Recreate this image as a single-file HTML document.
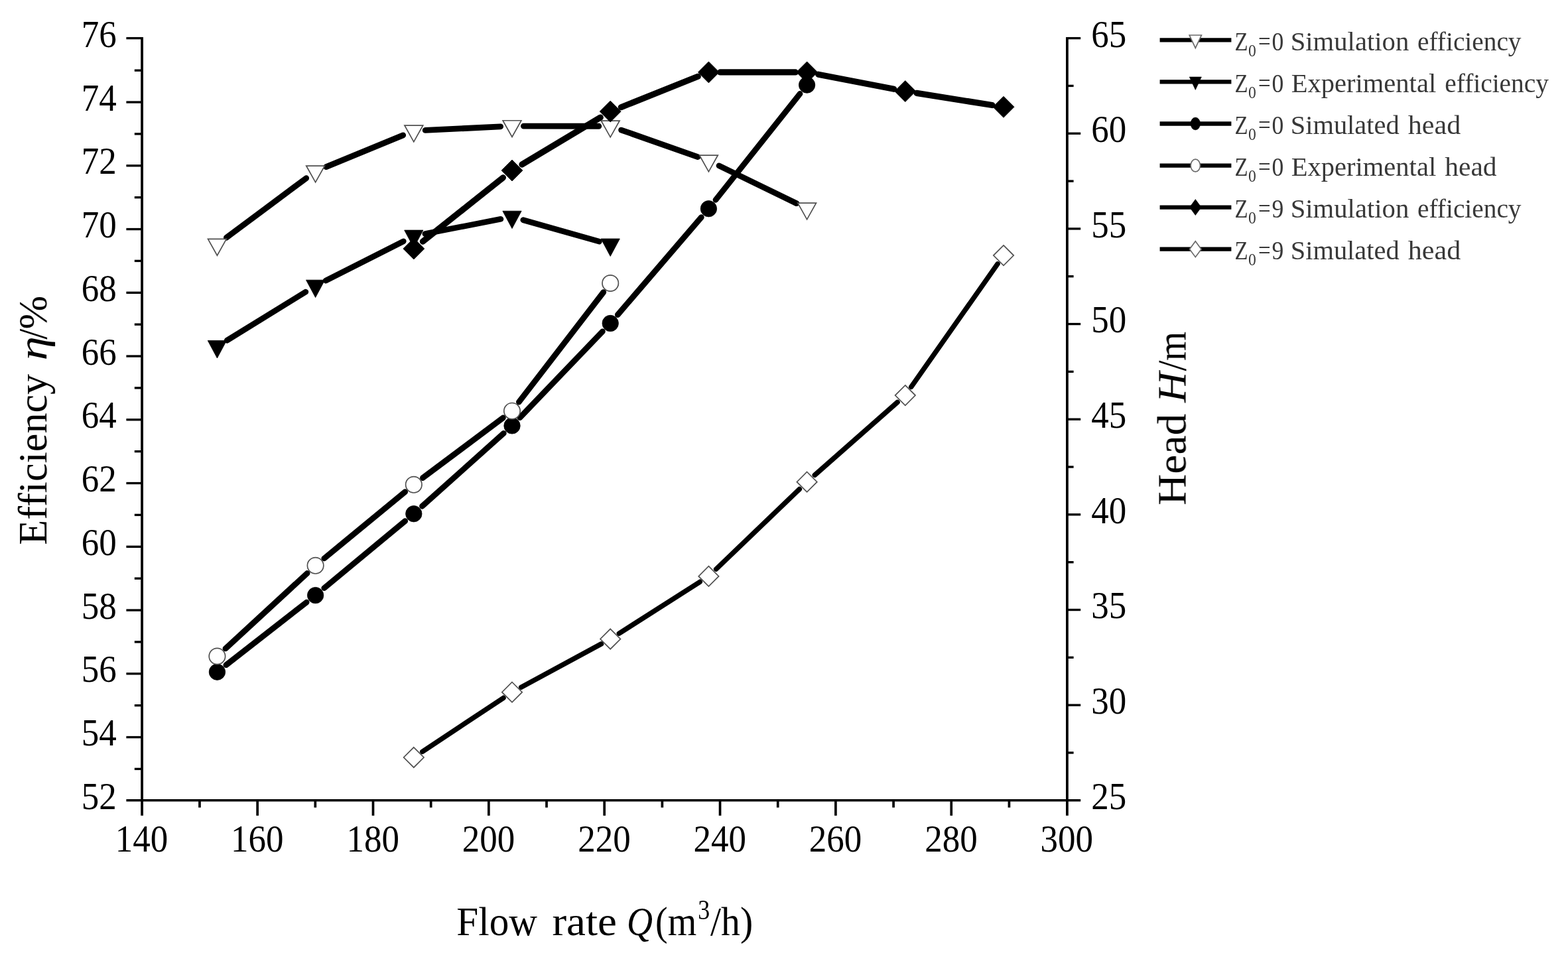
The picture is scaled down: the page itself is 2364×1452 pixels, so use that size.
<!DOCTYPE html>
<html lang="en"><head><meta charset="utf-8"><title>Efficiency and head versus flow rate</title>
<style>html,body{margin:0;padding:0;background:#fff;}body{width:2364px;height:1452px;overflow:hidden;}svg{display:block;}text{font-family:"Liberation Serif","DejaVu Serif",serif;white-space:pre;}.i{font-style:italic;}</style>
</head><body>
<svg width="2364" height="1452" viewBox="0 0 2364 1452">
<rect width="2364" height="1452" fill="#fff"/>
<defs><filter id="soft" x="0" y="0" width="100%" height="100%" filterUnits="userSpaceOnUse" color-interpolation-filters="sRGB"><feGaussianBlur stdDeviation="0.55"/></filter><filter id="softer" x="0" y="0" width="100%" height="100%" filterUnits="userSpaceOnUse" color-interpolation-filters="sRGB"><feGaussianBlur stdDeviation="0.7"/></filter></defs>
<g filter="url(#soft)">
<g stroke="#000" fill="none" stroke-linecap="butt">
<line x1="214.1" y1="55.93" x2="214.1" y2="1229.8" stroke-width="3.8"/>
<line x1="1608.9" y1="55.93" x2="1608.9" y2="1229.8" stroke-width="3.8"/>
<line x1="190.4" y1="1206.8" x2="1629.2" y2="1206.8" stroke-width="3.5"/>
<line x1="202.80" y1="1159.42" x2="214.10" y2="1159.42" stroke-width="3.35"/>
<line x1="190.40" y1="1111.55" x2="214.10" y2="1111.55" stroke-width="3.35"/>
<line x1="202.80" y1="1063.67" x2="214.10" y2="1063.67" stroke-width="3.35"/>
<line x1="190.40" y1="1015.80" x2="214.10" y2="1015.80" stroke-width="3.35"/>
<line x1="202.80" y1="967.92" x2="214.10" y2="967.92" stroke-width="3.35"/>
<line x1="190.40" y1="920.05" x2="214.10" y2="920.05" stroke-width="3.35"/>
<line x1="202.80" y1="872.17" x2="214.10" y2="872.17" stroke-width="3.35"/>
<line x1="190.40" y1="824.30" x2="214.10" y2="824.30" stroke-width="3.35"/>
<line x1="202.80" y1="776.42" x2="214.10" y2="776.42" stroke-width="3.35"/>
<line x1="190.40" y1="728.55" x2="214.10" y2="728.55" stroke-width="3.35"/>
<line x1="202.80" y1="680.67" x2="214.10" y2="680.67" stroke-width="3.35"/>
<line x1="190.40" y1="632.80" x2="214.10" y2="632.80" stroke-width="3.35"/>
<line x1="202.80" y1="584.92" x2="214.10" y2="584.92" stroke-width="3.35"/>
<line x1="190.40" y1="537.05" x2="214.10" y2="537.05" stroke-width="3.35"/>
<line x1="202.80" y1="489.17" x2="214.10" y2="489.17" stroke-width="3.35"/>
<line x1="190.40" y1="441.30" x2="214.10" y2="441.30" stroke-width="3.35"/>
<line x1="202.80" y1="393.42" x2="214.10" y2="393.42" stroke-width="3.35"/>
<line x1="190.40" y1="345.55" x2="214.10" y2="345.55" stroke-width="3.35"/>
<line x1="202.80" y1="297.67" x2="214.10" y2="297.67" stroke-width="3.35"/>
<line x1="190.40" y1="249.80" x2="214.10" y2="249.80" stroke-width="3.35"/>
<line x1="202.80" y1="201.92" x2="214.10" y2="201.92" stroke-width="3.35"/>
<line x1="190.40" y1="154.05" x2="214.10" y2="154.05" stroke-width="3.35"/>
<line x1="202.80" y1="106.17" x2="214.10" y2="106.17" stroke-width="3.35"/>
<line x1="190.40" y1="57.60" x2="214.10" y2="57.60" stroke-width="3.35"/>
<line x1="1608.90" y1="1134.97" x2="1618.60" y2="1134.97" stroke-width="3.35"/>
<line x1="1608.90" y1="1063.15" x2="1629.20" y2="1063.15" stroke-width="3.35"/>
<line x1="1608.90" y1="991.32" x2="1618.60" y2="991.32" stroke-width="3.35"/>
<line x1="1608.90" y1="919.50" x2="1629.20" y2="919.50" stroke-width="3.35"/>
<line x1="1608.90" y1="847.67" x2="1618.60" y2="847.67" stroke-width="3.35"/>
<line x1="1608.90" y1="775.85" x2="1629.20" y2="775.85" stroke-width="3.35"/>
<line x1="1608.90" y1="704.02" x2="1618.60" y2="704.02" stroke-width="3.35"/>
<line x1="1608.90" y1="632.20" x2="1629.20" y2="632.20" stroke-width="3.35"/>
<line x1="1608.90" y1="560.37" x2="1618.60" y2="560.37" stroke-width="3.35"/>
<line x1="1608.90" y1="488.55" x2="1629.20" y2="488.55" stroke-width="3.35"/>
<line x1="1608.90" y1="416.72" x2="1618.60" y2="416.72" stroke-width="3.35"/>
<line x1="1608.90" y1="344.90" x2="1629.20" y2="344.90" stroke-width="3.35"/>
<line x1="1608.90" y1="273.07" x2="1618.60" y2="273.07" stroke-width="3.35"/>
<line x1="1608.90" y1="201.25" x2="1629.20" y2="201.25" stroke-width="3.35"/>
<line x1="1608.90" y1="129.42" x2="1618.60" y2="129.42" stroke-width="3.35"/>
<line x1="1608.90" y1="57.60" x2="1629.20" y2="57.60" stroke-width="3.35"/>
<line x1="300.97" y1="1206.80" x2="300.97" y2="1217.60" stroke-width="3.7"/>
<line x1="388.15" y1="1206.80" x2="388.15" y2="1229.80" stroke-width="3.7"/>
<line x1="475.32" y1="1206.80" x2="475.32" y2="1217.60" stroke-width="3.7"/>
<line x1="562.50" y1="1206.80" x2="562.50" y2="1229.80" stroke-width="3.7"/>
<line x1="649.68" y1="1206.80" x2="649.68" y2="1217.60" stroke-width="3.7"/>
<line x1="736.85" y1="1206.80" x2="736.85" y2="1229.80" stroke-width="3.7"/>
<line x1="824.03" y1="1206.80" x2="824.03" y2="1217.60" stroke-width="3.7"/>
<line x1="911.20" y1="1206.80" x2="911.20" y2="1229.80" stroke-width="3.7"/>
<line x1="998.38" y1="1206.80" x2="998.38" y2="1217.60" stroke-width="3.7"/>
<line x1="1085.55" y1="1206.80" x2="1085.55" y2="1229.80" stroke-width="3.7"/>
<line x1="1172.73" y1="1206.80" x2="1172.73" y2="1217.60" stroke-width="3.7"/>
<line x1="1259.90" y1="1206.80" x2="1259.90" y2="1229.80" stroke-width="3.7"/>
<line x1="1347.08" y1="1206.80" x2="1347.08" y2="1217.60" stroke-width="3.7"/>
<line x1="1434.25" y1="1206.80" x2="1434.25" y2="1229.80" stroke-width="3.7"/>
<line x1="1521.43" y1="1206.80" x2="1521.43" y2="1217.60" stroke-width="3.7"/>
</g>
<text transform="translate(175.80,1219.80) scale(0.9300,1)" font-size="57.0" text-anchor="end">52</text>
<text transform="translate(175.80,1124.06) scale(0.9300,1)" font-size="57.0" text-anchor="end">54</text>
<text transform="translate(175.80,1028.32) scale(0.9300,1)" font-size="57.0" text-anchor="end">56</text>
<text transform="translate(175.80,932.58) scale(0.9300,1)" font-size="57.0" text-anchor="end">58</text>
<text transform="translate(175.80,836.83) scale(0.9300,1)" font-size="57.0" text-anchor="end">60</text>
<text transform="translate(175.80,741.09) scale(0.9300,1)" font-size="57.0" text-anchor="end">62</text>
<text transform="translate(175.80,645.35) scale(0.9300,1)" font-size="57.0" text-anchor="end">64</text>
<text transform="translate(175.80,549.61) scale(0.9300,1)" font-size="57.0" text-anchor="end">66</text>
<text transform="translate(175.80,453.87) scale(0.9300,1)" font-size="57.0" text-anchor="end">68</text>
<text transform="translate(175.80,358.12) scale(0.9300,1)" font-size="57.0" text-anchor="end">70</text>
<text transform="translate(175.80,262.38) scale(0.9300,1)" font-size="57.0" text-anchor="end">72</text>
<text transform="translate(175.80,166.64) scale(0.9300,1)" font-size="57.0" text-anchor="end">74</text>
<text transform="translate(175.80,70.90) scale(0.9300,1)" font-size="57.0" text-anchor="end">76</text>
<text transform="translate(1645.30,1219.50) scale(0.9300,1)" font-size="57.0" text-anchor="start">25</text>
<text transform="translate(1645.30,1075.89) scale(0.9300,1)" font-size="57.0" text-anchor="start">30</text>
<text transform="translate(1645.30,932.27) scale(0.9300,1)" font-size="57.0" text-anchor="start">35</text>
<text transform="translate(1645.30,788.66) scale(0.9300,1)" font-size="57.0" text-anchor="start">40</text>
<text transform="translate(1645.30,645.05) scale(0.9300,1)" font-size="57.0" text-anchor="start">45</text>
<text transform="translate(1645.30,501.44) scale(0.9300,1)" font-size="57.0" text-anchor="start">50</text>
<text transform="translate(1645.30,357.82) scale(0.9300,1)" font-size="57.0" text-anchor="start">55</text>
<text transform="translate(1645.30,214.21) scale(0.9300,1)" font-size="57.0" text-anchor="start">60</text>
<text transform="translate(1645.30,70.60) scale(0.9300,1)" font-size="57.0" text-anchor="start">65</text>
<text transform="translate(213.50,1284.30) scale(0.9300,1)" font-size="57.0" text-anchor="middle">140</text>
<text transform="translate(387.85,1284.30) scale(0.9300,1)" font-size="57.0" text-anchor="middle">160</text>
<text transform="translate(562.20,1284.30) scale(0.9300,1)" font-size="57.0" text-anchor="middle">180</text>
<text transform="translate(736.55,1284.30) scale(0.9300,1)" font-size="57.0" text-anchor="middle">200</text>
<text transform="translate(910.90,1284.30) scale(0.9300,1)" font-size="57.0" text-anchor="middle">220</text>
<text transform="translate(1085.25,1284.30) scale(0.9300,1)" font-size="57.0" text-anchor="middle">240</text>
<text transform="translate(1259.60,1284.30) scale(0.9300,1)" font-size="57.0" text-anchor="middle">260</text>
<text transform="translate(1433.95,1284.30) scale(0.9300,1)" font-size="57.0" text-anchor="middle">280</text>
<text transform="translate(1608.30,1284.30) scale(0.9300,1)" font-size="57.0" text-anchor="middle">300</text>
<text transform="translate(70.1,0) rotate(-90)" font-size="61.5"><tspan x="-821.70" textLength="257.88" lengthAdjust="spacingAndGlyphs">Efficiency</tspan> <tspan x="-543.40" textLength="36.41" lengthAdjust="spacingAndGlyphs" font-style="italic">η</tspan><tspan x="-511.80" textLength="15.96" lengthAdjust="spacingAndGlyphs">/</tspan><tspan x="-496.40" textLength="50.58" lengthAdjust="spacingAndGlyphs">%</tspan></text>
<text transform="translate(1787.5,0) rotate(-90)" font-size="61.5"><tspan x="-762.10" textLength="138.51" lengthAdjust="spacingAndGlyphs">Head</tspan> <tspan x="-607.12" textLength="46.26" lengthAdjust="spacingAndGlyphs" font-style="italic">H</tspan><tspan x="-559.60" textLength="15.96" lengthAdjust="spacingAndGlyphs">/</tspan><tspan x="-544.00" textLength="44.16" lengthAdjust="spacingAndGlyphs">m</tspan></text>
<text transform="translate(0,1410.0)" font-size="61.5"><tspan x="688.30" textLength="121.75" lengthAdjust="spacingAndGlyphs">Flow</tspan> <tspan x="832.40" textLength="97.54" lengthAdjust="spacingAndGlyphs">rate</tspan> <tspan x="945.00" textLength="39.03" lengthAdjust="spacingAndGlyphs" font-style="italic">Q</tspan><tspan x="988.00" textLength="62.15" lengthAdjust="spacingAndGlyphs">(m</tspan><tspan x="1052.30" textLength="18.00" lengthAdjust="spacingAndGlyphs" dy="-24.5" font-size="41.51">3</tspan><tspan x="1071.00" textLength="64.14" lengthAdjust="spacingAndGlyphs" dy="24.5">/h)</tspan></text>
<g fill="none" stroke="#000" stroke-width="8.8" stroke-linecap="round">
<line x1="341.38" y1="358.31" x2="461.67" y2="268.69"/>
<line x1="491.72" y1="251.68" x2="607.73" y2="203.92"/>
<line x1="641.20" y1="196.44" x2="754.64" y2="190.86"/>
<line x1="789.42" y1="190.04" x2="902.82" y2="190.26"/>
<line x1="936.64" y1="196.06" x2="1052.00" y2="236.54"/>
<line x1="1084.07" y1="249.90" x2="1200.96" y2="306.70"/>
</g>
<polygon points="313.53,360.43 341.33,360.43 327.43,385.23" fill="#fff" stroke="#505050" stroke-width="1.7" stroke-linejoin="miter"/>
<polygon points="461.73,250.03 489.52,250.03 475.62,274.83" fill="#fff" stroke="#505050" stroke-width="1.7" stroke-linejoin="miter"/>
<polygon points="609.92,189.03 637.72,189.03 623.82,213.83" fill="#fff" stroke="#505050" stroke-width="1.7" stroke-linejoin="miter"/>
<polygon points="758.12,181.73 785.92,181.73 772.02,206.53" fill="#fff" stroke="#505050" stroke-width="1.7" stroke-linejoin="miter"/>
<polygon points="906.32,182.03 934.12,182.03 920.22,206.83" fill="#fff" stroke="#505050" stroke-width="1.7" stroke-linejoin="miter"/>
<polygon points="1054.52,234.03 1082.32,234.03 1068.42,258.83" fill="#fff" stroke="#505050" stroke-width="1.7" stroke-linejoin="miter"/>
<polygon points="1202.71,306.03 1230.51,306.03 1216.61,330.83" fill="#fff" stroke="#505050" stroke-width="1.7" stroke-linejoin="miter"/>
<g fill="none" stroke="#000" stroke-width="8.7" stroke-linecap="round">
<line x1="342.24" y1="513.27" x2="460.82" y2="440.13"/>
<line x1="491.15" y1="423.13" x2="608.30" y2="363.77"/>
<line x1="640.90" y1="352.57" x2="754.94" y2="330.33"/>
<line x1="788.77" y1="331.72" x2="903.47" y2="364.08"/>
</g>
<polygon points="313.28,513.60 341.58,513.60 327.43,540.00" fill="#000" stroke="#000" stroke-width="0.8" stroke-linejoin="miter"/>
<polygon points="461.48,422.20 489.77,422.20 475.62,448.60" fill="#000" stroke="#000" stroke-width="0.8" stroke-linejoin="miter"/>
<polygon points="609.67,347.10 637.97,347.10 623.82,373.50" fill="#000" stroke="#000" stroke-width="0.8" stroke-linejoin="miter"/>
<polygon points="757.87,318.20 786.17,318.20 772.02,344.60" fill="#000" stroke="#000" stroke-width="0.8" stroke-linejoin="miter"/>
<polygon points="906.07,360.00 934.37,360.00 920.22,386.40" fill="#000" stroke="#000" stroke-width="0.8" stroke-linejoin="miter"/>
<g fill="none" stroke="#000" stroke-width="8.7" stroke-linecap="round">
<line x1="340.83" y1="1002.74" x2="462.22" y2="908.06"/>
<line x1="488.71" y1="886.75" x2="610.74" y2="785.55"/>
<line x1="636.48" y1="763.35" x2="759.36" y2="653.25"/>
<line x1="783.79" y1="629.64" x2="908.45" y2="499.76"/>
<line x1="931.28" y1="474.60" x2="1057.35" y2="327.60"/>
<line x1="1078.99" y1="301.39" x2="1206.04" y2="141.41"/>
</g>
<circle cx="327.43" cy="1013.20" r="12.20" fill="#000" stroke="#000" stroke-width="0.8"/>
<circle cx="475.62" cy="897.60" r="12.20" fill="#000" stroke="#000" stroke-width="0.8"/>
<circle cx="623.82" cy="774.70" r="12.20" fill="#000" stroke="#000" stroke-width="0.8"/>
<circle cx="772.02" cy="641.90" r="12.20" fill="#000" stroke="#000" stroke-width="0.8"/>
<circle cx="920.22" cy="487.50" r="12.20" fill="#000" stroke="#000" stroke-width="0.8"/>
<circle cx="1068.42" cy="314.70" r="12.20" fill="#000" stroke="#000" stroke-width="0.8"/>
<circle cx="1216.61" cy="128.10" r="12.20" fill="#000" stroke="#000" stroke-width="0.8"/>
<g fill="none" stroke="#000" stroke-width="8.7" stroke-linecap="round">
<line x1="339.92" y1="977.97" x2="463.13" y2="864.33"/>
<line x1="488.75" y1="842.00" x2="610.70" y2="741.60"/>
<line x1="637.42" y1="720.60" x2="758.42" y2="629.90"/>
<line x1="782.38" y1="606.22" x2="909.85" y2="440.48"/>
</g>
<circle cx="327.43" cy="989.50" r="12.20" fill="#fff" stroke="#505050" stroke-width="1.7"/>
<circle cx="475.62" cy="852.80" r="12.20" fill="#fff" stroke="#505050" stroke-width="1.7"/>
<circle cx="623.82" cy="730.80" r="12.20" fill="#fff" stroke="#505050" stroke-width="1.7"/>
<circle cx="772.02" cy="619.70" r="12.20" fill="#fff" stroke="#505050" stroke-width="1.7"/>
<circle cx="920.22" cy="427.00" r="12.20" fill="#fff" stroke="#505050" stroke-width="1.7"/>
<g fill="none" stroke="#000" stroke-width="9.2" stroke-linecap="round">
<line x1="637.43" y1="364.16" x2="758.41" y2="267.84"/>
<line x1="786.94" y1="248.05" x2="905.30" y2="177.05"/>
<line x1="936.38" y1="161.65" x2="1052.26" y2="115.35"/>
<line x1="1085.82" y1="108.90" x2="1199.21" y2="108.90"/>
<line x1="1233.70" y1="112.21" x2="1347.73" y2="134.29"/>
<line x1="1381.99" y1="140.35" x2="1495.83" y2="158.55"/>
</g>
<polygon points="623.82,359.00 639.82,375.00 623.82,391.00 607.82,375.00" fill="#000" stroke="#000" stroke-width="0.8" stroke-linejoin="miter"/>
<polygon points="772.02,241.00 788.02,257.00 772.02,273.00 756.02,257.00" fill="#000" stroke="#000" stroke-width="0.8" stroke-linejoin="miter"/>
<polygon points="920.22,152.10 936.22,168.10 920.22,184.10 904.22,168.10" fill="#000" stroke="#000" stroke-width="0.8" stroke-linejoin="miter"/>
<polygon points="1068.42,92.90 1084.42,108.90 1068.42,124.90 1052.42,108.90" fill="#000" stroke="#000" stroke-width="0.8" stroke-linejoin="miter"/>
<polygon points="1216.61,92.90 1232.61,108.90 1216.61,124.90 1200.61,108.90" fill="#000" stroke="#000" stroke-width="0.8" stroke-linejoin="miter"/>
<polygon points="1364.81,121.60 1380.81,137.60 1364.81,153.60 1348.81,137.60" fill="#000" stroke="#000" stroke-width="0.8" stroke-linejoin="miter"/>
<polygon points="1513.01,145.30 1529.01,161.30 1513.01,177.30 1497.01,161.30" fill="#000" stroke="#000" stroke-width="0.8" stroke-linejoin="miter"/>
<g fill="none" stroke="#000" stroke-width="7.5" stroke-linecap="round">
<line x1="636.82" y1="1133.38" x2="759.02" y2="1052.32"/>
<line x1="785.74" y1="1036.28" x2="906.50" y2="970.92"/>
<line x1="933.37" y1="955.11" x2="1055.27" y2="877.29"/>
<line x1="1079.67" y1="858.10" x2="1205.36" y2="737.50"/>
<line x1="1228.32" y1="716.39" x2="1353.11" y2="606.41"/>
<line x1="1373.78" y1="583.33" x2="1504.04" y2="397.87"/>
</g>
<polygon points="623.82,1126.80 639.02,1142.00 623.82,1157.20 608.62,1142.00" fill="#fff" stroke="#505050" stroke-width="1.7" stroke-linejoin="miter"/>
<polygon points="772.02,1028.50 787.22,1043.70 772.02,1058.90 756.82,1043.70" fill="#fff" stroke="#505050" stroke-width="1.7" stroke-linejoin="miter"/>
<polygon points="920.22,948.30 935.42,963.50 920.22,978.70 905.02,963.50" fill="#fff" stroke="#505050" stroke-width="1.7" stroke-linejoin="miter"/>
<polygon points="1068.42,853.70 1083.62,868.90 1068.42,884.10 1053.22,868.90" fill="#fff" stroke="#505050" stroke-width="1.7" stroke-linejoin="miter"/>
<polygon points="1216.61,711.50 1231.81,726.70 1216.61,741.90 1201.41,726.70" fill="#fff" stroke="#505050" stroke-width="1.7" stroke-linejoin="miter"/>
<polygon points="1364.81,580.90 1380.01,596.10 1364.81,611.30 1349.61,596.10" fill="#fff" stroke="#505050" stroke-width="1.7" stroke-linejoin="miter"/>
<polygon points="1513.01,369.90 1528.21,385.10 1513.01,400.30 1497.81,385.10" fill="#fff" stroke="#505050" stroke-width="1.7" stroke-linejoin="miter"/>
</g>
<g filter="url(#softer)">
<line x1="1748.6" y1="60.40" x2="1856.4" y2="60.40" stroke="#000" stroke-width="6.3"/>
<polygon points="1793.20,53.00 1811.40,53.00 1802.30,72.40" fill="#fff" stroke="#6a6a6a" stroke-width="1.7"/>
<text transform="translate(0,75.80)" font-size="40.0" fill="#383838"><tspan x="1861.60" textLength="20.05" lengthAdjust="spacingAndGlyphs">Z</tspan><tspan x="1882.00" textLength="11.80" lengthAdjust="spacingAndGlyphs" dy="9.0" font-size="24.80">0</tspan><tspan x="1897.00" textLength="18.65" lengthAdjust="spacingAndGlyphs" dy="-9.0">=</tspan><tspan x="1917.60" textLength="17.80" lengthAdjust="spacingAndGlyphs">0</tspan> <tspan x="1945.70" textLength="178.54" lengthAdjust="spacingAndGlyphs">Simulation</tspan> <tspan x="2137.00" textLength="156.53" lengthAdjust="spacingAndGlyphs">efficiency</tspan></text>
<line x1="1748.6" y1="123.45" x2="1856.4" y2="123.45" stroke="#000" stroke-width="6.3"/>
<polygon points="1793.20,116.05 1811.40,116.05 1802.30,135.45" fill="#000" stroke="#000" stroke-width="0.6"/>
<text transform="translate(0,138.85)" font-size="40.0" fill="#383838"><tspan x="1861.60" textLength="20.05" lengthAdjust="spacingAndGlyphs">Z</tspan><tspan x="1882.00" textLength="11.80" lengthAdjust="spacingAndGlyphs" dy="9.0" font-size="24.80">0</tspan><tspan x="1897.00" textLength="18.65" lengthAdjust="spacingAndGlyphs" dy="-9.0">=</tspan><tspan x="1917.60" textLength="17.80" lengthAdjust="spacingAndGlyphs">0</tspan> <tspan x="1946.70" textLength="218.47" lengthAdjust="spacingAndGlyphs">Experimental</tspan> <tspan x="2178.30" textLength="156.53" lengthAdjust="spacingAndGlyphs">efficiency</tspan></text>
<line x1="1748.6" y1="186.50" x2="1856.4" y2="186.50" stroke="#000" stroke-width="6.3"/>
<ellipse cx="1802.30" cy="186.50" rx="7.2" ry="9.4" fill="#000" stroke="#000" stroke-width="0.6"/>
<text transform="translate(0,201.90)" font-size="40.0" fill="#383838"><tspan x="1861.60" textLength="20.05" lengthAdjust="spacingAndGlyphs">Z</tspan><tspan x="1882.00" textLength="11.80" lengthAdjust="spacingAndGlyphs" dy="9.0" font-size="24.80">0</tspan><tspan x="1897.00" textLength="18.65" lengthAdjust="spacingAndGlyphs" dy="-9.0">=</tspan><tspan x="1917.60" textLength="17.80" lengthAdjust="spacingAndGlyphs">0</tspan> <tspan x="1945.70" textLength="164.06" lengthAdjust="spacingAndGlyphs">Simulated</tspan> <tspan x="2122.80" textLength="79.41" lengthAdjust="spacingAndGlyphs">head</tspan></text>
<line x1="1748.6" y1="249.55" x2="1856.4" y2="249.55" stroke="#000" stroke-width="6.3"/>
<ellipse cx="1802.30" cy="249.55" rx="7.2" ry="9.4" fill="#fff" stroke="#6a6a6a" stroke-width="1.7"/>
<text transform="translate(0,264.95)" font-size="40.0" fill="#383838"><tspan x="1861.60" textLength="20.05" lengthAdjust="spacingAndGlyphs">Z</tspan><tspan x="1882.00" textLength="11.80" lengthAdjust="spacingAndGlyphs" dy="9.0" font-size="24.80">0</tspan><tspan x="1897.00" textLength="18.65" lengthAdjust="spacingAndGlyphs" dy="-9.0">=</tspan><tspan x="1917.60" textLength="17.80" lengthAdjust="spacingAndGlyphs">0</tspan> <tspan x="1946.70" textLength="218.47" lengthAdjust="spacingAndGlyphs">Experimental</tspan> <tspan x="2178.30" textLength="78.21" lengthAdjust="spacingAndGlyphs">head</tspan></text>
<line x1="1748.6" y1="312.60" x2="1856.4" y2="312.60" stroke="#000" stroke-width="6.3"/>
<polygon points="1802.30,300.60 1811.10,312.60 1802.30,324.60 1793.50,312.60" fill="#000" stroke="#000" stroke-width="0.6"/>
<text transform="translate(0,328.00)" font-size="40.0" fill="#383838"><tspan x="1861.60" textLength="20.05" lengthAdjust="spacingAndGlyphs">Z</tspan><tspan x="1882.00" textLength="11.80" lengthAdjust="spacingAndGlyphs" dy="9.0" font-size="24.80">0</tspan><tspan x="1897.00" textLength="18.65" lengthAdjust="spacingAndGlyphs" dy="-9.0">=</tspan><tspan x="1917.60" textLength="17.80" lengthAdjust="spacingAndGlyphs">9</tspan> <tspan x="1945.70" textLength="178.54" lengthAdjust="spacingAndGlyphs">Simulation</tspan> <tspan x="2137.00" textLength="156.53" lengthAdjust="spacingAndGlyphs">efficiency</tspan></text>
<line x1="1748.6" y1="375.65" x2="1856.4" y2="375.65" stroke="#000" stroke-width="6.3"/>
<polygon points="1802.30,363.65 1811.10,375.65 1802.30,387.65 1793.50,375.65" fill="#fff" stroke="#6a6a6a" stroke-width="1.7"/>
<text transform="translate(0,391.05)" font-size="40.0" fill="#383838"><tspan x="1861.60" textLength="20.05" lengthAdjust="spacingAndGlyphs">Z</tspan><tspan x="1882.00" textLength="11.80" lengthAdjust="spacingAndGlyphs" dy="9.0" font-size="24.80">0</tspan><tspan x="1897.00" textLength="18.65" lengthAdjust="spacingAndGlyphs" dy="-9.0">=</tspan><tspan x="1917.60" textLength="17.80" lengthAdjust="spacingAndGlyphs">9</tspan> <tspan x="1945.70" textLength="164.06" lengthAdjust="spacingAndGlyphs">Simulated</tspan> <tspan x="2122.80" textLength="79.41" lengthAdjust="spacingAndGlyphs">head</tspan></text>
</g>
</svg>
</body></html>
